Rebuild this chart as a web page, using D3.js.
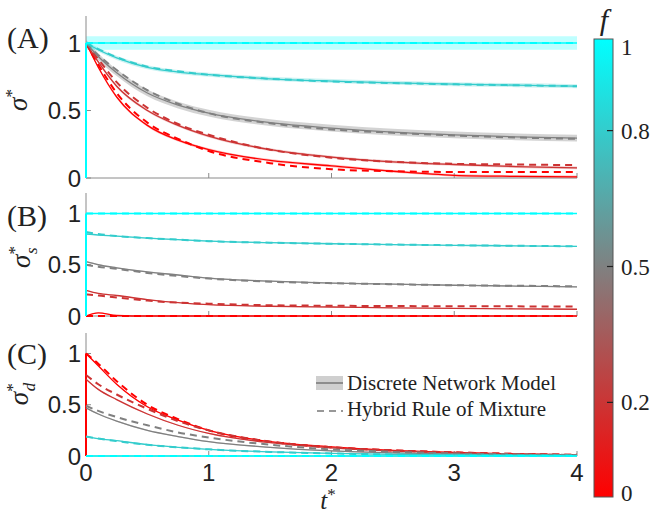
<!DOCTYPE html>
<html>
<head>
<meta charset="utf-8">
<script src="https://cdn.jsdelivr.net/npm/d3@7"></script>
<style>
  html, body { margin: 0; padding: 0; background: #fff; }
  svg { display: block; }
  .tick-label { font-family: "Liberation Sans", Arial, sans-serif; font-size: 24px; fill: #222; }
  .serif { font-family: "Liberation Serif", "Times New Roman", serif; fill: #222; }
</style>
</head>
<body>
<div id="viz"></div>
<script>
// time grid shared by every curve
const tGrid = [0, 0.1, 0.25, 0.5, 0.75, 1, 1.5, 2, 2.5, 3, 3.5, 4];
const fValues = [0, 0.2, 0.5, 0.8, 1];
const xTicks = [0, 1, 2, 3, 4];
const yTicks = [0, 0.5, 1];
const cbTicks = [0, 0.2, 0.5, 0.8, 1];

// (A) sigma* — one row per f
const sigmaA_dnm = [
  [1, 0.82, 0.6, 0.39, 0.28, 0.21, 0.13, 0.09, 0.05, 0.02, 0.012, 0.008],
  [1, 0.86, 0.68, 0.5, 0.39, 0.31, 0.21, 0.155, 0.12, 0.1, 0.085, 0.075],
  [1, 0.9, 0.78, 0.63, 0.54, 0.48, 0.41, 0.37, 0.34, 0.32, 0.305, 0.295],
  [1, 0.95, 0.89, 0.82, 0.785, 0.765, 0.735, 0.718, 0.705, 0.695, 0.688, 0.68],
  [1, 1, 1, 1, 1, 1, 1, 1, 1, 1, 1, 1]
];
const sigmaA_hrm = [
  [1, 0.84, 0.63, 0.41, 0.29, 0.2, 0.11, 0.065, 0.05, 0.045, 0.045, 0.045],
  [1, 0.88, 0.71, 0.52, 0.4, 0.32, 0.21, 0.15, 0.12, 0.105, 0.1, 0.095],
  [1, 0.91, 0.8, 0.65, 0.55, 0.48, 0.405, 0.36, 0.335, 0.315, 0.3, 0.29],
  [1, 0.955, 0.895, 0.825, 0.79, 0.765, 0.735, 0.715, 0.703, 0.694, 0.687, 0.68],
  [1, 1, 1, 1, 1, 1, 1, 1, 1, 1, 1, 1]
];
const bandA = [0.01, 0.01, 0.025, 0.015, 0.05];

// (B) sigma_s*
const sigmaB_dnm = [
  [0, 0.03, 0.005, 0, 0, 0, 0, 0, 0, 0, 0, 0],
  [0.25, 0.22, 0.2, 0.16, 0.13, 0.11, 0.095, 0.088, 0.08, 0.075, 0.07, 0.066],
  [0.53, 0.5, 0.47, 0.43, 0.4, 0.37, 0.34, 0.32, 0.31, 0.3, 0.292, 0.285],
  [0.8, 0.79, 0.78, 0.76, 0.745, 0.73, 0.715, 0.705, 0.697, 0.69, 0.685, 0.68],
  [1, 1, 1, 1, 1, 1, 1, 1, 1, 1, 1, 1]
];
const sigmaB_hrm = [
  [0, 0, 0, 0, 0, 0, 0, 0, 0, 0, 0, 0],
  [0.21, 0.2, 0.18, 0.15, 0.13, 0.12, 0.105, 0.1, 0.097, 0.095, 0.094, 0.093],
  [0.5, 0.48, 0.46, 0.42, 0.39, 0.365, 0.335, 0.32, 0.31, 0.3, 0.295, 0.29],
  [0.82, 0.8, 0.78, 0.76, 0.745, 0.73, 0.715, 0.705, 0.697, 0.69, 0.685, 0.68],
  [1, 1, 1, 1, 1, 1, 1, 1, 1, 1, 1, 1]
];
const bandB = [0.004, 0.004, 0.006, 0.006, 0.004];

// (C) sigma_d*
const sigmaC_dnm = [
  [1, 0.88, 0.7, 0.48, 0.35, 0.25, 0.14, 0.09, 0.055, 0.035, 0.02, 0.01],
  [0.75, 0.65, 0.55, 0.41, 0.3, 0.22, 0.13, 0.08, 0.05, 0.03, 0.018, 0.01],
  [0.47, 0.41, 0.34, 0.25, 0.19, 0.14, 0.085, 0.05, 0.03, 0.02, 0.012, 0.008],
  [0.19, 0.17, 0.15, 0.11, 0.085, 0.065, 0.04, 0.025, 0.015, 0.01, 0.006, 0.004],
  [0, 0, 0, 0, 0, 0, 0, 0, 0, 0, 0, 0]
];
const sigmaC_hrm = [
  [1, 0.9, 0.73, 0.5, 0.36, 0.25, 0.14, 0.085, 0.055, 0.035, 0.02, 0.012],
  [0.79, 0.7, 0.6, 0.46, 0.34, 0.25, 0.14, 0.085, 0.055, 0.035, 0.02, 0.012],
  [0.49, 0.44, 0.38, 0.3, 0.23, 0.18, 0.11, 0.065, 0.04, 0.025, 0.015, 0.01],
  [0.19, 0.17, 0.145, 0.11, 0.085, 0.065, 0.04, 0.025, 0.015, 0.01, 0.006, 0.004],
  [0, 0, 0, 0, 0, 0, 0, 0, 0, 0, 0, 0]
];
const bandC = [0.006, 0.006, 0.006, 0.004, 0.004];

// which f curves jump up from 0 at t = 0 in each panel
const jumpA = [1];
const jumpB = [1];
const jumpC = [0];

const W = 655, H = 517;
const svg = d3.select('#viz').append('svg').attr('width', W).attr('height', H);

const x = d3.scaleLinear().domain([0, 4]).range([86, 577]);
const color = d3.scaleLinear()
  .domain([0, 0.5, 1])
  .range(['#ff0000', '#808080', '#00ffff'])
  .interpolate(d3.interpolateRgb);

const panels = [
  { label: '(A)', labelY: 48, top: 16, bottom: 178, dnm: sigmaA_dnm, hrm: sigmaA_hrm, band: bandA, jump: jumpA,
    ylab: { x: 27, y: 100, sub: null } },
  { label: '(B)', labelY: 226, top: 193, bottom: 316, dnm: sigmaB_dnm, hrm: sigmaB_hrm, band: bandB, jump: jumpB,
    ylab: { x: 30, y: 257, sub: 's' } },
  { label: '(C)', labelY: 364, top: 333, bottom: 456, dnm: sigmaC_dnm, hrm: sigmaC_hrm, band: bandC, jump: jumpC,
    ylab: { x: 28, y: 394, sub: 'd' } }
];

panels.forEach((p, pi) => {
  const y = d3.scaleLinear().domain([0, 1.2]).range([p.bottom, p.top]);
  const g = svg.append('g');

  const line = d3.line().x(d => x(d.t)).y(d => y(d.v)).curve(d3.curveMonotoneX);
  const area = d3.area().x(d => x(d.t)).y0(d => y(d.v - d.b)).y1(d => y(Math.min(d.v + d.b, 1.2)))
    .curve(d3.curveMonotoneX);

  // bands
  fValues.forEach((f, i) => {
    const pts = tGrid.map((t, k) => ({ t, v: p.dnm[i][k], b: p.band[i] }));
    g.append('path').attr('d', area(pts))
      .attr('fill', f === 0.5 ? '#c8c8c8' : color(f))
      .attr('fill-opacity', f === 0.5 ? 0.8 : 0.25);
  });

  // axes
  g.append('line').attr('x1', x(0)).attr('x2', x(0)).attr('y1', y(1.2)).attr('y2', y(0))
    .attr('stroke', '#8a8a8a').attr('stroke-width', 1);
  g.append('line').attr('x1', x(0)).attr('x2', x(4)).attr('y1', y(0)).attr('y2', y(0))
    .attr('stroke', '#8a8a8a').attr('stroke-width', 1);
  xTicks.forEach(t => {
    g.append('line').attr('x1', x(t)).attr('x2', x(t)).attr('y1', y(0)).attr('y2', y(0) - 5)
      .attr('stroke', '#8a8a8a');
  });
  yTicks.forEach(v => {
    g.append('line').attr('x1', x(0)).attr('x2', x(0) + 5).attr('y1', y(v)).attr('y2', y(v))
      .attr('stroke', '#8a8a8a');
    g.append('text').attr('class', 'tick-label')
      .attr('x', 81).attr('y', y(v)).attr('dy', '0.36em')
      .attr('text-anchor', 'end').text(v);
  });

  // curves
  fValues.forEach((f, i) => {
    const dn = tGrid.map((t, k) => ({ t, v: p.dnm[i][k] }));
    const hr = tGrid.map((t, k) => ({ t, v: p.hrm[i][k] }));
    if (p.jump.includes(f)) {
      g.append('line').attr('x1', x(0)).attr('x2', x(0)).attr('y1', y(0)).attr('y2', y(dn[0].v))
        .attr('stroke', color(f)).attr('stroke-width', 2);
    }
    g.append('path').attr('d', line(dn)).attr('fill', 'none')
      .attr('stroke', color(f)).attr('stroke-width', 1.3);
    g.append('path').attr('d', line(hr)).attr('fill', 'none')
      .attr('stroke', color(f)).attr('stroke-width', 2)
      .attr('stroke-dasharray', '7,5');
  });

  // panel label
  svg.append('text').attr('class', 'serif').attr('x', 7).attr('y', p.labelY)
    .style('font-size', '30px').text(p.label);

  // y label: sigma with star and optional subscript, rotated
  const yl = svg.append('text').attr('class', 'serif')
    .attr('transform', `translate(${p.ylab.x},${p.ylab.y}) rotate(-90)`)
    .attr('text-anchor', 'middle')
    .style('font-size', '27px').style('font-style', 'italic');
  yl.append('tspan').text('σ');
  yl.append('tspan').attr('dy', -10).style('font-size', '17px').style('font-style', 'normal').text('*');
  if (p.ylab.sub) {
    yl.append('tspan').attr('dx', -8).attr('dy', 17).style('font-size', '17px').text(p.ylab.sub);
  }

  // x tick labels only on bottom panel
  if (pi === 2) {
    xTicks.forEach(t => {
      svg.append('text').attr('class', 'tick-label')
        .attr('x', x(t)).attr('y', 481).attr('text-anchor', 'middle').text(t);
    });
    const xl = svg.append('text').attr('class', 'serif')
      .attr('x', 328).attr('y', 509).attr('text-anchor', 'middle')
      .style('font-size', '25px').style('font-style', 'italic');
    xl.append('tspan').text('t');
    xl.append('tspan').attr('dy', -9).style('font-size', '17px').style('font-style', 'normal').text('*');
  }
});

// legend
const lg = svg.append('g');
lg.append('rect').attr('x', 316).attr('y', 376).attr('width', 27).attr('height', 14).attr('fill', '#cfcfcf');
lg.append('line').attr('x1', 316).attr('x2', 343).attr('y1', 383).attr('y2', 383)
  .attr('stroke', '#777').attr('stroke-width', 1.5);
lg.append('line').attr('x1', 317).attr('x2', 343).attr('y1', 411).attr('y2', 411)
  .attr('stroke', '#777').attr('stroke-width', 1.5).attr('stroke-dasharray', '7,5');
lg.append('text').attr('class', 'serif').attr('x', 347).attr('y', 390)
  .style('font-size', '21px').attr('textLength', 209).attr('lengthAdjust', 'spacing')
  .text('Discrete Network Model');
lg.append('text').attr('class', 'serif').attr('x', 347).attr('y', 416)
  .style('font-size', '21px').attr('textLength', 199).attr('lengthAdjust', 'spacing')
  .text('Hybrid Rule of Mixture');

// colorbar
const cbY = d3.scaleLinear().domain([0, 1]).range([493, 40]);
const defs = svg.append('defs');
const grad = defs.append('linearGradient').attr('id', 'cbgrad')
  .attr('x1', 0).attr('y1', 1).attr('x2', 0).attr('y2', 0);
[0, 0.5, 1].forEach(f => {
  grad.append('stop').attr('offset', f).attr('stop-color', color(f));
});
svg.append('rect').attr('x', 594).attr('y', cbY(1) - 1).attr('width', 19)
  .attr('height', cbY(0) - cbY(1) + 5)
  .attr('fill', 'url(#cbgrad)').attr('stroke', '#555').attr('stroke-width', 1);
cbTicks.forEach(v => {
  if (v > 0 && v < 1) {
    svg.append('line').attr('x1', 607).attr('x2', 613).attr('y1', cbY(v)).attr('y2', cbY(v))
      .attr('stroke', '#222').attr('stroke-width', 1.2);
  }
  svg.append('text').attr('class', 'serif')
    .attr('x', 621).attr('y', cbY(v) + (v === 1 ? 7 : 0)).attr('dy', '0.35em')
    .style('font-size', '23px').text(v);
});
svg.append('text').attr('class', 'serif').attr('x', 604).attr('y', 30)
  .attr('text-anchor', 'middle').style('font-size', '30px').style('font-style', 'italic').text('f');
</script>
</body>
</html>
